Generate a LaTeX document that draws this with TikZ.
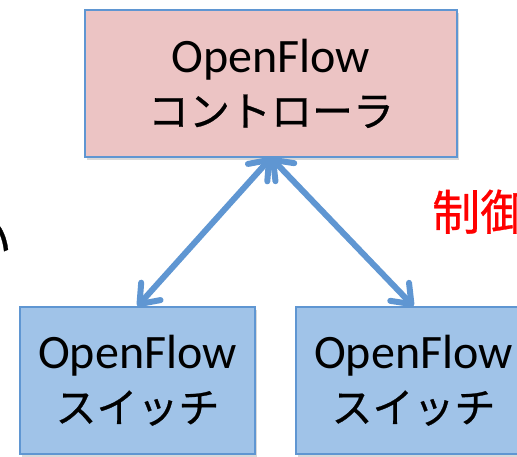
\documentclass[tikz,border=0pt]{standalone}
\usepackage{fontspec}
\setmainfont{Carlito}
\newfontfamily\jpfont[FakeBold=0.6]{Noto Sans CJK JP}
\usetikzlibrary{arrows.meta,positioning,shadows}
\definecolor{ctrlpink}{RGB}{236,196,196}
\definecolor{swblue}{RGB}{160,195,232}
\definecolor{edgeblue}{RGB}{95,150,210}
\newcommand{\jp}[1]{{\jpfont\fontsize{41}{54}\selectfont #1}}
\tikzset{
  box/.style = {rectangle, align=center, inner sep=0pt, text centered,
    draw=edgeblue, line width=1.5pt, minimum height=147pt,
    font=\fontsize{48}{54}\selectfont,
    drop shadow={shadow xshift=1.5pt, shadow yshift=-3pt, opacity=.3}},
  ctrl/.style = {box, fill=ctrlpink, minimum width=372pt},% controller (pink)
  sw/.style = {box, fill=swblue, minimum width=235pt},% switch (blue)
  link/.style = {draw=edgeblue, line width=6pt, line cap=round,
    {Straight Barb[length=17pt, width=26pt, line cap=round, line join=round]}-{Straight Barb[length=17pt, width=26pt, line cap=round, line join=round]}},
  note/.style = {inner sep=0pt, font=\jpfont\fontsize{48}{54}\selectfont}
}

\begin{document}
\begin{tikzpicture}[x=1pt,y=1pt]
\useasboundingbox (0,0) rectangle (517,-456);
\node [ctrl] (ctrl) at (271,-83.5) {OpenFlow\\\jp{コントローラ}};
\node [sw] (swA) at (137.5,-380.5) {OpenFlow\\\jp{スイッチ}};
\node [sw] (swB) at (413.5,-380.5) {OpenFlow\\\jp{スイッチ}};
% links
\draw [link] (swA.north) -- (ctrl.south);
\draw [link] (swB.north) -- (ctrl.south);
% cut-off texts
\node [note, red, anchor=base west] (ctl) at (432,-230) {制御};
\node [note, anchor=base east] (left) at (12,-258) {い};
\end{tikzpicture}
\end{document}
